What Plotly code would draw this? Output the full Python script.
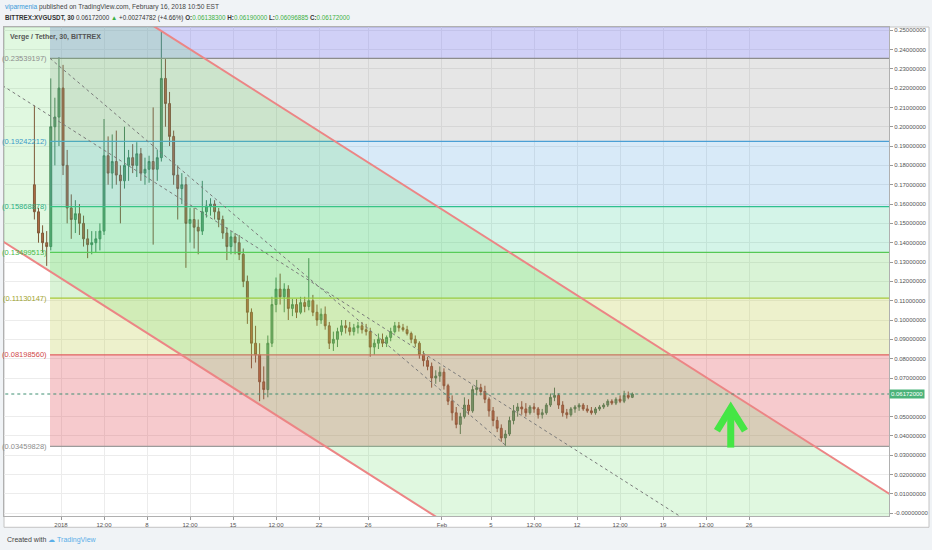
import pandas as pd
import plotly.graph_objects as go

# 8h candles (XVG/USDT, Bittrex)
opens = [0.170, 0.156, 0.145, 0.140, 0.138, 0.200, 0.205, 0.220, 0.180, 0.158,
         0.152, 0.155, 0.150, 0.142, 0.139, 0.140, 0.142, 0.146, 0.185, 0.176,
         0.182, 0.175, 0.172, 0.180, 0.184, 0.180, 0.186, 0.176, 0.178, 0.182,
         0.178, 0.184, 0.225, 0.212, 0.195, 0.175, 0.168, 0.170, 0.150, 0.152,
         0.148, 0.146, 0.156, 0.159, 0.160, 0.156, 0.152, 0.145, 0.138, 0.143,
         0.140, 0.134, 0.120, 0.104, 0.088, 0.082, 0.068, 0.064, 0.088, 0.108,
         0.116, 0.112, 0.116, 0.106, 0.108, 0.104, 0.109, 0.107, 0.110, 0.104,
         0.100, 0.103, 0.097, 0.088, 0.090, 0.094, 0.097, 0.096, 0.094, 0.096,
         0.097, 0.095, 0.094, 0.086, 0.088, 0.090, 0.088, 0.091, 0.094, 0.097,
         0.096, 0.095, 0.093, 0.090, 0.088, 0.082, 0.079, 0.076, 0.070, 0.071,
         0.073, 0.066, 0.058, 0.052, 0.046, 0.050, 0.056, 0.053, 0.064, 0.065,
         0.063, 0.059, 0.053, 0.048, 0.044, 0.039, 0.041, 0.048, 0.053, 0.055,
         0.054, 0.052, 0.055, 0.054, 0.051, 0.052, 0.056, 0.060, 0.061, 0.056,
         0.052, 0.051, 0.054, 0.055, 0.056, 0.054, 0.053, 0.052, 0.054, 0.055,
         0.056, 0.058, 0.057, 0.059, 0.058, 0.061, 0.060]
highs = [0.211, 0.158, 0.149, 0.146, 0.225, 0.215, 0.236, 0.232, 0.188, 0.165,
         0.162, 0.160, 0.154, 0.147, 0.146, 0.146, 0.150, 0.204, 0.195, 0.196,
         0.198, 0.180, 0.200, 0.188, 0.191, 0.192, 0.189, 0.184, 0.185, 0.210,
         0.188, 0.249, 0.235, 0.218, 0.198, 0.180, 0.176, 0.174, 0.158, 0.158,
         0.152, 0.172, 0.162, 0.163, 0.162, 0.158, 0.154, 0.148, 0.146, 0.145,
         0.144, 0.137, 0.123, 0.106, 0.097, 0.088, 0.076, 0.092, 0.112, 0.122,
         0.124, 0.119, 0.118, 0.111, 0.111, 0.112, 0.112, 0.132, 0.113, 0.108,
         0.106, 0.107, 0.099, 0.094, 0.096, 0.100, 0.100, 0.099, 0.098, 0.099,
         0.099, 0.098, 0.096, 0.090, 0.093, 0.093, 0.092, 0.096, 0.099, 0.099,
         0.098, 0.097, 0.094, 0.092, 0.089, 0.084, 0.081, 0.078, 0.074, 0.076,
         0.075, 0.067, 0.061, 0.055, 0.052, 0.060, 0.059, 0.066, 0.069, 0.067,
         0.066, 0.060, 0.055, 0.050, 0.046, 0.043, 0.050, 0.056, 0.057, 0.058,
         0.057, 0.056, 0.057, 0.055, 0.054, 0.057, 0.062, 0.065, 0.062, 0.058,
         0.054, 0.055, 0.056, 0.057, 0.057, 0.056, 0.055, 0.055, 0.056, 0.057,
         0.059, 0.059, 0.060, 0.061, 0.0634, 0.063, 0.0625]
lows = [0.152, 0.140, 0.135, 0.128, 0.136, 0.180, 0.190, 0.175, 0.150, 0.142,
        0.145, 0.144, 0.138, 0.132, 0.134, 0.135, 0.136, 0.144, 0.170, 0.168,
        0.170, 0.150, 0.168, 0.172, 0.176, 0.174, 0.172, 0.170, 0.171, 0.139,
        0.172, 0.182, 0.200, 0.190, 0.170, 0.152, 0.160, 0.127, 0.140, 0.137,
        0.134, 0.144, 0.153, 0.154, 0.152, 0.148, 0.142, 0.131, 0.134, 0.134,
        0.131, 0.117, 0.098, 0.075, 0.078, 0.058, 0.059, 0.060, 0.086, 0.104,
        0.108, 0.104, 0.100, 0.102, 0.101, 0.103, 0.104, 0.105, 0.102, 0.097,
        0.098, 0.095, 0.085, 0.084, 0.086, 0.092, 0.093, 0.092, 0.092, 0.093,
        0.093, 0.092, 0.081, 0.082, 0.085, 0.086, 0.086, 0.089, 0.093, 0.094,
        0.094, 0.092, 0.088, 0.086, 0.080, 0.076, 0.074, 0.065, 0.067, 0.068,
        0.064, 0.056, 0.048, 0.044, 0.041, 0.049, 0.051, 0.052, 0.061, 0.061,
        0.057, 0.050, 0.045, 0.042, 0.037, 0.0346, 0.040, 0.046, 0.050, 0.051,
        0.050, 0.051, 0.052, 0.049, 0.049, 0.051, 0.055, 0.058, 0.054, 0.050,
        0.049, 0.050, 0.052, 0.053, 0.053, 0.052, 0.051, 0.051, 0.053, 0.054,
        0.055, 0.056, 0.056, 0.057, 0.057, 0.059, 0.0596]
closes = [0.156, 0.145, 0.140, 0.138, 0.200, 0.205, 0.220, 0.180, 0.158, 0.152,
          0.155, 0.150, 0.142, 0.139, 0.140, 0.142, 0.146, 0.185, 0.176, 0.182,
          0.175, 0.172, 0.180, 0.184, 0.180, 0.186, 0.176, 0.178, 0.182, 0.178,
          0.184, 0.225, 0.212, 0.195, 0.175, 0.168, 0.170, 0.150, 0.152, 0.148,
          0.146, 0.156, 0.159, 0.160, 0.156, 0.152, 0.145, 0.138, 0.143, 0.140,
          0.134, 0.120, 0.104, 0.088, 0.082, 0.068, 0.064, 0.088, 0.108, 0.116,
          0.112, 0.116, 0.106, 0.108, 0.104, 0.109, 0.107, 0.110, 0.104, 0.100,
          0.103, 0.097, 0.088, 0.090, 0.094, 0.097, 0.096, 0.094, 0.096, 0.097,
          0.095, 0.094, 0.086, 0.088, 0.090, 0.088, 0.091, 0.094, 0.097, 0.096,
          0.095, 0.093, 0.090, 0.088, 0.082, 0.079, 0.076, 0.070, 0.071, 0.073,
          0.066, 0.058, 0.052, 0.046, 0.050, 0.056, 0.053, 0.064, 0.065, 0.063,
          0.059, 0.053, 0.048, 0.044, 0.039, 0.041, 0.048, 0.053, 0.055, 0.054,
          0.052, 0.055, 0.054, 0.051, 0.052, 0.056, 0.060, 0.061, 0.056, 0.052,
          0.051, 0.054, 0.055, 0.056, 0.054, 0.053, 0.052, 0.054, 0.055, 0.056,
          0.058, 0.057, 0.059, 0.058, 0.061, 0.060, 0.06172]
times = pd.date_range("2017-12-29 20:00", periods=len(closes), freq="8h")

# fibonacci retracement (drawn from the Jan high to the Feb 6 low)
fib_prices = [0.03459828, 0.08198560, 0.11130147, 0.13499513,
              0.15868878, 0.19242212, 0.23539197, 0.35948]
fib_labels = ["(0.03459828)", "(0.08198560)", "(0.11130147)", "(0.13499513)",
              "(0.15868878)", "(0.19242212)", "(0.23539197)", ""]
fib_line_colors = ["#9b9b9b", "#e06060", "#a8c838", "#55c855",
                   "#2fbf8f", "#4a9fd5", "#8c8c8c", "#5a5ad8"]
fib_text_colors = ["#8c8c8c", "#d04848", "#9fa530", "#48b848",
                   "#2db085", "#3b9ac8", "#8c8c8c", "#5a5ad8"]
fib_fills = [None, "rgba(220,60,70,0.27)", "rgba(185,200,50,0.25)",
             "rgba(80,200,70,0.22)", "rgba(40,200,140,0.2)",
             "rgba(60,150,220,0.2)", "rgba(128,128,128,0.2)",
             "rgba(100,100,230,0.3)"]
fib_start = "2017-12-31 02:30"
fib_end = "2018-03-20 00:00"
trend_x = ["2017-12-31 02:30", "2018-02-06 07:10"]
trend_y = [0.23539197, 0.03459828]

# parallel channel
channel_x = ["2017-12-26 00:00", "2018-03-12 00:00"]
channel_upper = [0.30677, -0.00035]
channel_lower = [0.1458, -0.16132]
channel_mid = [0.22628, -0.08084]

last_price = 0.06172
arrow_x = ["2018-02-24 12:15", "2018-02-24 12:15", None,
           "2018-02-23 09:20", "2018-02-24 12:15", "2018-02-25 16:00"]
arrow_y = [0.0340, 0.0544, None, 0.0427, 0.0544, 0.0427]

x_tick_vals = ["2018-01-01", "2018-01-04 12:00", "2018-01-08", "2018-01-11 12:00",
               "2018-01-15", "2018-01-18 12:00", "2018-01-22", "2018-01-26",
               "2018-02-01", "2018-02-05", "2018-02-08 12:00", "2018-02-12",
               "2018-02-15 12:00", "2018-02-19", "2018-02-22 12:00", "2018-02-26"]
x_tick_text = ["2018", "12:00", "8", "12:00", "15", "12:00", "22", "26",
               "Feb", "5", "12:00", "12", "12:00", "19", "12:00", "26"]
# 0.06 is hidden behind the last-price tag in the original
y_tick_vals = [0.00, 0.01, 0.02, 0.03, 0.04, 0.05, 0.07, 0.08, 0.09,
               0.10, 0.11, 0.12, 0.13, 0.14, 0.15, 0.16, 0.17, 0.18, 0.19,
               0.20, 0.21, 0.22, 0.23, 0.24, 0.25]
y_tick_text = ["-0.00000000", "0.01000000", "0.02000000", "0.03000000",
               "0.04000000", "0.05000000", "0.07000000",
               "0.08000000", "0.09000000", "0.10000000", "0.11000000",
               "0.12000000", "0.13000000", "0.14000000", "0.15000000",
               "0.16000000", "0.17000000", "0.18000000", "0.19000000",
               "0.20000000", "0.21000000", "0.22000000", "0.23000000",
               "0.24000000", "0.25000000"]

FONT = "Liberation Sans"
fig = go.Figure()

# fib bands + level lines
for i in range(1, len(fib_prices)):
    lo, hi = fib_prices[i - 1], fib_prices[i]
    fig.add_trace(go.Scatter(x=[fib_start, fib_end, fib_end, fib_start, fib_start],
                             y=[lo, lo, hi, hi, lo], mode="lines", fill="toself",
                             fillcolor=fib_fills[i], line=dict(width=0),
                             hoverinfo="skip", showlegend=False))
for p, c in zip(fib_prices, fib_line_colors):
    fig.add_trace(go.Scatter(x=[fib_start, fib_end], y=[p, p], mode="lines",
                             line=dict(color=c, width=1.3), hoverinfo="skip",
                             showlegend=False))

# channel
fig.add_trace(go.Scatter(x=channel_x + channel_x[::-1] + channel_x[:1],
                         y=channel_upper + channel_lower[::-1] + channel_upper[:1],
                         mode="lines", fill="toself", fillcolor="rgba(100,220,100,0.2)",
                         line=dict(width=0), hoverinfo="skip", showlegend=False))
for ys in (channel_upper, channel_lower):
    fig.add_trace(go.Scatter(x=channel_x, y=ys, mode="lines",
                             line=dict(color="#ec8585", width=2),
                             hoverinfo="skip", showlegend=False))
fig.add_trace(go.Scatter(x=channel_x, y=channel_mid, mode="lines",
                         line=dict(color="#7a7a7a", width=1, dash="3px,3px"),
                         hoverinfo="skip", showlegend=False))
fig.add_trace(go.Scatter(x=trend_x, y=trend_y, mode="lines",
                         line=dict(color="#7a7a7a", width=1, dash="3px,3px"),
                         hoverinfo="skip", showlegend=False))

# last price line
fig.add_trace(go.Scatter(x=[channel_x[0], channel_x[1]], y=[last_price, last_price],
                         mode="lines", line=dict(color="#3f8f72", width=1, dash="dot"),
                         hoverinfo="skip", showlegend=False))

fig.add_trace(go.Candlestick(
    x=times, open=opens, high=highs, low=lows, close=closes,
    increasing=dict(line=dict(color="#3a7552", width=1), fillcolor="#5f9c78"),
    decreasing=dict(line=dict(color="#843a2e", width=1), fillcolor="#c9533f"),
    whiskerwidth=0, hoverinfo="skip", showlegend=False))

fig.add_trace(go.Scatter(x=arrow_x, y=arrow_y, mode="lines",
                         line=dict(color="#45e645", width=7),
                         hoverinfo="skip", showlegend=False))

annotations = []
for p, t, c in zip(fib_prices, fib_labels, fib_text_colors):
    if t:
        annotations.append(dict(x=fib_start, y=p, xref="x", yref="y", text=t,
                                showarrow=False, xanchor="right", yanchor="middle",
                                xshift=-1, font=dict(family=FONT, size=7.5, color=c)))

annotations.append(dict(x=1, y=last_price, xref="paper", yref="y", text="0.06172000",
                        showarrow=False, xanchor="left", yanchor="middle",
                        bgcolor="#4bb37a", borderpad=1,
                        font=dict(family=FONT, size=6, color="white")))
annotations.append(dict(x=0.004, y=0.9795, xref="paper", yref="paper",
                        text="<b>Verge / Tether, 30, BITTREX</b>", showarrow=False,
                        xanchor="left", yanchor="middle",
                        font=dict(family=FONT, size=7, color="#555")))
annotations.append(dict(x=-0.001, y=1.041, xref="paper", yref="paper",
                        text="<span style='color:#3a9ad9'>viparmenia</span> published on "
                             "TradingView.com, February 16, 2018 10:50 EST",
                        showarrow=False, xanchor="left", yanchor="middle",
                        font=dict(family=FONT, size=6.6, color="#444")))
green = "<span style='color:#3cb043'>"
annotations.append(dict(x=-0.001, y=1.0185, xref="paper", yref="paper",
                        text="<b>BITTREX:XVGUSDT, 30</b> 0.06172000 " + green + "▲</span> "
                             "+0.00274782 (+4.66%) <b>O:</b>" + green + "0.06138300</span> "
                             "<b>H:</b>" + green + "0.06190000</span> <b>L:</b>" + green +
                             "0.06096885</span> <b>C:</b>" + green + "0.06172000</span>",
                        showarrow=False, xanchor="left", yanchor="middle",
                        font=dict(family=FONT, size=6.3, color="#333")))
annotations.append(dict(x=0.001, y=-0.05, xref="paper", yref="paper",
                        text="Created with <span style='color:#5aaee8'>☁ TradingView</span>",
                        showarrow=False, xanchor="left", yanchor="middle",
                        font=dict(family=FONT, size=7, color="#444")))

fig.update_layout(
    width=932, height=550,
    margin=dict(l=4, r=43, t=27, b=34, autoexpand=False),
    paper_bgcolor="#f0f3f6", plot_bgcolor="white",
    font=dict(family=FONT, size=6, color="#555"),
    showlegend=False, boxgap=0.35,
    annotations=annotations,
    shapes=[dict(type="rect", xref="paper", yref="paper", x0=0, x1=1.0452,
                 y0=-0.0231, y1=1, fillcolor="white",
                 line=dict(color="#c4c4c4", width=1), layer="below")],
    xaxis=dict(type="date", range=["2017-12-27 08:38", "2018-03-09 09:22"],
               rangeslider=dict(visible=False), tickvals=x_tick_vals,
               ticktext=x_tick_text, ticks="outside", ticklen=3, tickcolor="#999",
               showgrid=True, gridcolor="#ececec", gridwidth=1, automargin=False,
               showline=True, linecolor="#b0b0b0", mirror=True, zeroline=False,
               tickfont=dict(family=FONT, size=6, color="#555")),
    yaxis=dict(side="right", range=[-0.0014, 0.2516], tickvals=y_tick_vals,
               ticktext=y_tick_text, ticks="outside", ticklen=3, tickcolor="#999",
               showgrid=True, gridcolor="#ececec", gridwidth=1, automargin=False,
               showline=True, linecolor="#b0b0b0", mirror=True, zeroline=False,
               tickfont=dict(family=FONT, size=6, color="#555")),
)

# the page body has a default 8px margin; drop it so the figure sits at the corner
fig.write_html("out.html", config={"displayModeBar": False},
               post_script="document.body.style.margin = '0';")
